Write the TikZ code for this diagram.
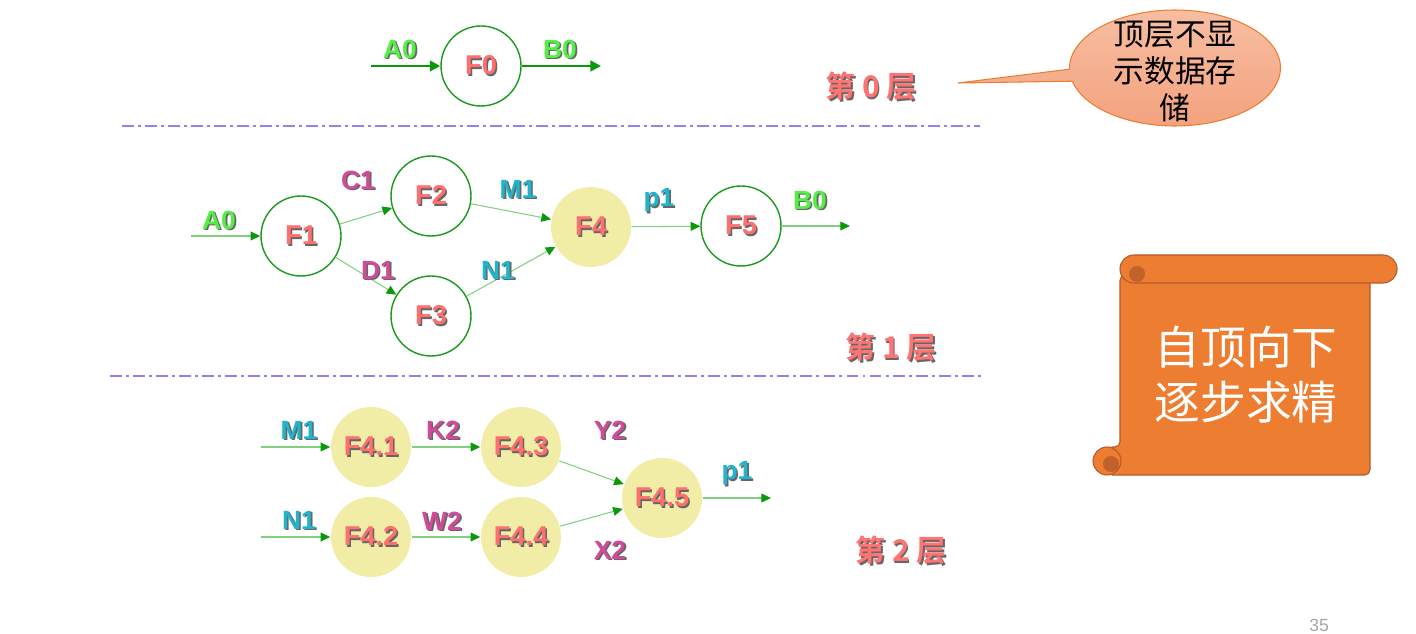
\documentclass[tikz,border=0pt]{standalone}
\usepackage{fontspec}
\setmainfont{Liberation Sans}
\newfontfamily\cjk[BoldFont={Noto Sans CJK SC Bold}]{Noto Sans CJK SC}
\usetikzlibrary{arrows.meta,shapes.callouts}
\usetikzlibrary{positioning}

\definecolor{procgreen}{HTML}{1A9A1A}
\definecolor{flowgreen}{HTML}{80D080}
\definecolor{headgreen}{HTML}{0A990A}
\definecolor{procred}{HTML}{FF6F6F}
\definecolor{procyellow}{HTML}{F2EDA6}
\definecolor{datagreen}{HTML}{55EE44}
\definecolor{datapink}{HTML}{D24A9A}
\definecolor{datacyan}{HTML}{22B4CC}
\definecolor{lvlred}{HTML}{FF7373}
\definecolor{layerpurple}{HTML}{9580F0}
\definecolor{notetop}{HTML}{F7BEA2}
\definecolor{notebottom}{HTML}{F4A17D}
\definecolor{noteedge}{HTML}{ED7D31}
\definecolor{scrollorange}{HTML}{ED7D31}
\definecolor{scrolledge}{HTML}{B5592A}
\definecolor{scrolldark}{HTML}{C0622A}

% text with a dark drop shadow
\newcommand{\shadowed}[1]{\makebox[0pt][l]{\hspace{0.9pt}\raisebox{-0.9pt}{\textcolor{black!60}{#1}}}#1}

\tikzset{
    process/.style={
           circle,
           draw=procgreen, line width=0.8pt,
           minimum size=1.6cm,
           inner sep=0pt,
           text=procred,
           font=\fontsize{15.5}{18}\selectfont\bfseries,
           },
    subprocess/.style={process, draw=none, fill=procyellow},
    dataflow/.style={draw=flowgreen, line width=0.6pt,
           -{Triangle[length=5.5pt,width=5pt,color=headgreen]}},
    topflow/.style={draw=headgreen, line width=1.6pt,
           -{Triangle[length=6pt,width=6pt]}},
    datalabel/.style={inner sep=0pt, font=\fontsize{15}{17}\selectfont\bfseries},
    lvllabel/.style={inner sep=0pt, text=lvlred,
           font=\cjk\fontsize{17}{20}\selectfont\bfseries},
    layerline/.style={draw=layerpurple, line width=1.1pt,
           dash pattern=on 6.8pt off 2.3pt on 1.7pt off 2.3pt},
    note/.style={ellipse callout, draw=noteedge, line width=0.6pt,
           top color=notetop, bottom color=notebottom,
           minimum width=4.22cm, minimum height=2.32cm, inner sep=0pt,
           callout pointer arc=12,
           font=\cjk\fontsize{17.5}{20.5}\selectfont},
    scrollpart/.style={fill=scrollorange, draw=scrolledge, line width=0.6pt},
}

\begin{document}
\begin{tikzpicture}[x=0.02cm,y=-0.02cm]
 \useasboundingbox (0,0) rectangle (1416,634);

 % Layer 0: the whole system as one process
 \node[process] (F0) at (481,66) {\shadowed{F0}};
 \coordinate (in0) at (371,66);
 \coordinate (out0) at (601,66);
 \draw[topflow] (in0) -- (F0);
 \draw[topflow] (F0) -- (out0);
 \node[datalabel, text=datagreen] (A0top) at (400,50) {\shadowed{A0}};
 \node[datalabel, text=datagreen] (B0top) at (560,50) {\shadowed{B0}};
 \node[lvllabel] (layer0) at (871,87) {\shadowed{第 0 层}};

 % callout on the right of layer 0
 \node[note, callout absolute pointer={(958,83)}] (note) at (1175,68)
  {\smash{\raisebox{-8.5pt}{\begin{tabular}{@{}c@{}}顶层不显\\示数据存\\储\end{tabular}}}};

 \draw[layerline] (122,126) -- (980,126);

 % Layer 1
 \node[process] (F1) at (301,236) {\shadowed{F1}};
 \node[process] (F2) at (431,196) {\shadowed{F2}};
 \node[process] (F3) at (431,316) {\shadowed{F3}};
 \node[subprocess] (F4) at (591,227) {\shadowed{F4}};
 \node[process] (F5) at (741,226) {\shadowed{F5}};
 \coordinate (in1) at (191,236);
 \coordinate (out1) at (850,226);
 \draw[dataflow] (in1) -- (F1);
 \draw[dataflow] (F1) -- (F2);
 \draw[dataflow] (F1) -- (F3);
 \draw[dataflow] (F2) -- (F4);
 \draw[dataflow] (F3) -- (F4);
 \draw[dataflow] (F4) -- (F5);
 \draw[dataflow] (F5) -- (out1);
 \node[datalabel, text=datagreen] (A0mid) at (219,221) {\shadowed{A0}};
 \node[datalabel, text=datapink] (C1) at (358,181) {\shadowed{C1}};
 \node[datalabel, text=datapink] (D1) at (378,271) {\shadowed{D1}};
 \node[datalabel, text=datacyan] (M1mid) at (518,190) {\shadowed{M1}};
 \node[datalabel, text=datacyan] (N1mid) at (498,271) {\shadowed{N1}};
 \node[datalabel, text=datacyan] (p1mid) at (659,201) {\shadowed{p1}};
 \node[datalabel, text=datagreen] (B0mid) at (810,201) {\shadowed{B0}};
 \node[lvllabel] (layer1) at (891,348) {\shadowed{第 1 层}};

 \draw[layerline] (110,376) -- (981,376);

 % Layer 2: F4 refined
 \node[subprocess] (F41) at (371,447) {\shadowed{F4.1}};
 \node[subprocess] (F43) at (521,447) {\shadowed{F4.3}};
 \node[subprocess] (F42) at (371,537) {\shadowed{F4.2}};
 \node[subprocess] (F44) at (521,537) {\shadowed{F4.4}};
 \node[subprocess] (F45) at (662,498) {\shadowed{F4.5}};
 \coordinate (in2a) at (261,447);
 \coordinate (in2b) at (261,537);
 \coordinate (out2) at (771,498);
 \draw[dataflow] (in2a) -- (F41);
 \draw[dataflow] (in2b) -- (F42);
 \draw[dataflow] (F41) -- (F43);
 \draw[dataflow] (F42) -- (F44);
 \draw[dataflow] (F43) -- (F45);
 \draw[dataflow] (F44) -- (F45);
 \draw[dataflow] (F45) -- (out2);
 \node[datalabel, text=datacyan] (M1low) at (299,431) {\shadowed{M1}};
 \node[datalabel, text=datacyan] (N1low) at (299,521) {\shadowed{N1}};
 \node[datalabel, text=datapink] (K2) at (443,431) {\shadowed{K2}};
 \node[datalabel, text=datapink] (W2) at (442,522) {\shadowed{W2}};
 \node[datalabel, text=datapink] (Y2) at (610,431) {\shadowed{Y2}};
 \node[datalabel, text=datapink] (X2) at (610,551) {\shadowed{X2}};
 \node[datalabel, text=datacyan] (p1low) at (737,474) {\shadowed{p1}};
 \node[lvllabel] (layer2) at (901,551) {\shadowed{第 2 层}};

 % scroll with the motto
 \draw[scrollpart, rounded corners=3pt] (1120,275) -- (1370,275) -- (1370,475)
   -- (1107,475) -- (1107,447) -- (1120,447) -- cycle;
 \draw[scrollpart, rounded corners=7.9pt] (1120,255) rectangle (1397,283);
 \fill[scrolldark] (1137,274) circle (8);
 \draw[scrollpart] (1107,461) circle (14);
 \fill[scrolldark] (1111,464) circle (8);
 \node[text=white, font=\cjk\fontsize{26}{31}\selectfont] (motto) at (1246,381)
  {\begin{tabular}{@{}c@{}}自顶向下\\逐步求精\end{tabular}};

 \node[anchor=north west, inner sep=0pt, text=black!35,
  font=\fontsize{10}{12}\selectfont] (pageno) at (1309,619) {35};
\end{tikzpicture}
\end{document}
